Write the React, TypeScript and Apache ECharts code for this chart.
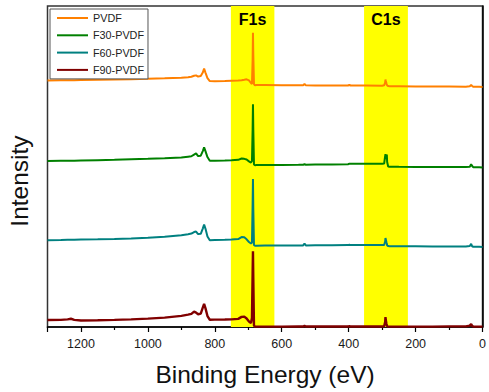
import React, { useEffect, useRef } from "react";
import * as echarts from "echarts";

// Binding energies (eV), shared by all spectra
const energies = [
  1300, 1260, 1240, 1230, 1220, 1200, 1150, 1100, 1050, 1000, 950, 900, 880, 870, 862, 856, 850, 842, 836, 832,
  828, 822, 815, 800, 770, 750, 730, 720, 712, 705, 698, 692, 689, 687, 686, 685, 683, 680, 675, 650,
  600, 550, 536, 532, 528, 500, 450, 402, 398, 394, 350, 300, 294, 291, 290, 289, 287, 286, 285, 282,
  278, 250, 200, 150, 100, 50, 38, 34, 31, 28, 10, 0,
];

// Intensities (a.u., offset-stacked)
const pvdf = [
  248, 248.2, 248.2, 248.4, 248.3, 248.5, 248.7, 249, 249.4, 249.8, 250.2, 250.8, 251.4, 251.8, 252.8, 253.2, 252, 252.5, 256, 260,
  256, 250.5, 247.5, 247.4, 247.6, 247.8, 248, 248.2, 248.7, 249.2, 248.2, 245.5, 244.5, 269, 296, 274, 244.5, 243.2, 243.4, 243.4,
  243.3, 243.2, 243.2, 244.7, 243.2, 243.1, 243, 243, 243.7, 243, 242.9, 242.8, 243.2, 246, 249, 247.5, 245, 244.5, 243, 242.4,
  242.3, 242.2, 242, 242, 241.9, 241.8, 242.2, 243.5, 242.5, 241.7, 241.7, 241.5,
];
const f30 = [
  167, 167.2, 167.3, 167.4, 167.4, 167.6, 167.9, 168.2, 168.7, 169.2, 169.8, 170.6, 171.4, 171.8, 173.5, 174.7, 172, 172.4, 177, 180.7,
  177, 171, 167.3, 167.4, 167.5, 167.7, 168.2, 169.5, 169.2, 168.5, 166.7, 165.5, 167, 199, 224, 199, 163.5, 162.8, 162.9, 163,
  163.1, 163.2, 163.3, 163.8, 163.3, 163.4, 163.5, 163.8, 164.2, 164.2, 164.2, 164.2, 164.5, 172, 174, 169, 172, 173.5, 166, 161.5,
  161.3, 161.2, 161.1, 161, 161, 160.9, 161.3, 163.8, 162, 160.8, 160.7, 160.5,
];
const f60 = [
  87.3, 87.5, 87.7, 87.8, 87.8, 88, 88.2, 88.5, 89, 89.8, 90.8, 92.4, 93.4, 94, 95.5, 96, 93.5, 93.8, 99, 103,
  99, 91, 87.3, 87.5, 87.8, 88.1, 88.5, 90.5, 90.2, 88.2, 85.5, 84, 85, 124, 149, 119, 82.5, 81.7, 81.8, 81.9,
  82, 82.1, 82.1, 84, 82.1, 82.2, 82.3, 82.4, 82.8, 82.4, 82.4, 82.5, 82.6, 86, 89.5, 88, 85, 84, 82, 81.4,
  81.3, 81.3, 81.2, 81.1, 81, 80.9, 81.5, 83.7, 81.2, 80.8, 80.7, 80.5,
];
const f90 = [
  7, 7.2, 7.7, 8.3, 7.2, 6.5, 6.8, 7.2, 7.7, 8.4, 9.4, 11.2, 12.4, 13.2, 15.5, 14.5, 12.8, 13.5, 19.5, 23.3,
  19, 11, 7.3, 7.4, 7.5, 7.7, 8.2, 10.2, 10.4, 8.5, 5.5, 4, 9, 54, 76.3, 49, 1.5, 0.4, 0.4, 0.4,
  0.4, 0.5, 0.5, 1.2, 0.5, 0.5, 0.5, 0.5, 1, 0.5, 0.5, 0.5, 0.7, 5, 10, 7, 3, 2, 0.7, 0.4,
  0.4, 0.4, 0.4, 0.4, 0.6, 0.6, 1.4, 3, 1.2, 0.5, 0.4, 0.4,
];

const seriesNames = ["PVDF", "F30-PVDF", "F60-PVDF", "F90-PVDF"];
const seriesValues = [pvdf, f30, f60, f90];
const seriesColors = ["#FF8000", "#008000", "#008080", "#800000"];

// Highlighted regions (eV)
const bandLabels = ["F1s", "C1s"];
const bandRanges = [
  [752, 622],
  [354, 223],
];

const xTickLabels = ["0", "200", "400", "600", "800", "1000", "1200"];

const FONT = "'Liberation Sans', Arial, sans-serif";

export default function App() {
  const ref = useRef<HTMLDivElement>(null);

  useEffect(() => {
    if (!ref.current) return;
    const chart = echarts.init(ref.current, null, { renderer: "svg" });

    const lines = seriesNames.map((name, i) => ({
      name,
      type: "line",
      data: energies.map((e, k) => [e, seriesValues[i][k]]),
      symbol: "none",
      showSymbol: false,
      z: 3,
      lineStyle: { color: seriesColors[i], width: i === 3 ? 2.4 : 2 },
      itemStyle: { color: seriesColors[i] },
    }));

    chart.setOption({
      animation: false,
      backgroundColor: "#ffffff",
      textStyle: { fontFamily: FONT },
      grid: {
        left: 47.5,
        right: 3,
        top: 6,
        bottom: 63,
        show: true,
        borderColor: "#333",
        borderWidth: 1.5,
      },
      legend: {
        data: seriesNames.map((n) => ({ name: n, icon: "rect" })),
        orient: "vertical",
        left: 50,
        top: 9,
        padding: [2, 4, 2, 7],
        itemWidth: 31,
        itemHeight: 2,
        itemGap: 3.3,
        borderColor: "#555",
        borderWidth: 1,
        backgroundColor: "#fff",
        textStyle: { fontSize: 10.8, lineHeight: 14, color: "#222", fontFamily: FONT },
      },
      xAxis: {
        type: "value",
        inverse: true,
        min: 0,
        max: 1300,
        interval: 200,
        name: "Binding Energy (eV)",
        nameLocation: "middle",
        nameGap: 35,
        nameTextStyle: { fontSize: 24.5, color: "#111", fontFamily: FONT },
        axisLine: { show: true, lineStyle: { color: "#000", width: 1.5 } },
        axisTick: { show: true, length: 5, lineStyle: { color: "#000", width: 1.2 } },
        minorTick: { show: true, splitNumber: 2, length: 3, lineStyle: { color: "#000", width: 1.2 } },
        splitLine: { show: false },
        axisLabel: {
          fontSize: 12.5,
          color: "#1a1a1a",
          margin: 10,
          showMaxLabel: false,
          fontFamily: FONT,
          formatter: (v: number) => (xTickLabels.includes(String(v)) ? String(v) : ""),
        },
      },
      yAxis: {
        type: "value",
        min: 0,
        max: 323,
        axisLine: { show: true, lineStyle: { color: "#000", width: 1.5 } },
        axisTick: { show: false },
        axisLabel: { show: false },
        splitLine: { show: false },
      },
      graphic: [
        {
          type: "text",
          x: 19.5,
          y: 181,
          rotation: Math.PI / 2,
          style: {
            text: "Intensity",
            fontSize: 24.5,
            fontFamily: FONT,
            fill: "#111",
            align: "center",
            verticalAlign: "middle",
            textAlign: "center",
            textVerticalAlign: "middle",
          },
        },
      ],
      series: [
        {
          name: "bands",
          type: "line",
          data: [],
          z: 1,
          markArea: {
            silent: true,
            itemStyle: { color: "#FFFF00" },
            label: {
              show: true,
              position: "insideTop",
              distance: 5,
              fontSize: 16,
              fontWeight: "bold",
              color: "#000",
              fontFamily: FONT,
            },
            data: bandRanges.map((r, i) => [
              { name: bandLabels[i], xAxis: r[0] },
              { xAxis: r[1] },
            ]),
          },
        },
        ...lines,
      ],
    });

    return () => chart.dispose();
  }, []);

  return <div ref={ref} style={{ position: "fixed", left: 0, top: 0, width: 489, height: 392 }} />;
}
